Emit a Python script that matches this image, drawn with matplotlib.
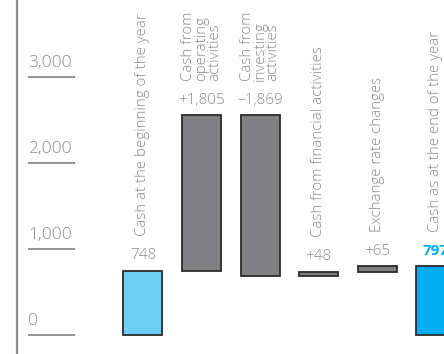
import matplotlib
matplotlib.use('Agg')
import matplotlib.pyplot as plt
import matplotlib.transforms as mtransforms
import numpy as np

# waterfall data
categories = ['Cash at the beginning of the year',
              'Cash from\noperating\nactivities',
              'Cash from\ninvesting\nactivities',
              'Cash from financial activities',
              'Exchange rate changes',
              'Cash as at the end of the year']
values = [748, 1805, -1869, 48, 65, 797]
value_labels = ['748', '+1,805', '\u20131,869', '+48', '+65', '797']
is_total = [True, False, False, False, False, True]
yticks = [0, 1000, 2000, 3000]
ytick_labels = ['0', '1,000', '2,000', '3,000']

GRAY = '#8a8a8d'
plt.rcParams['font.family'] = ['Open Sans', 'DejaVu Sans']
plt.rcParams['font.weight'] = 'light'


def main():
	fig = plt.figure(figsize=(4.44, 3.54), dpi=100)
	ax = fig.add_axes([0, 0, 1, 1])
	ax.set_xlim(-2.44, 5.14)
	ax.set_ylim(-221, 3895)
	ax.axis('off')

	#Build bottoms/heights for the waterfall
	bottoms, heights, tops = [], [], []
	running = 0
	for v, tot in zip(values, is_total):
		if tot:
			bottoms.append(0)
			heights.append(v)
			running = v
		else:
			bottoms.append(running + min(0, v))
			heights.append(abs(v))
			running += v
		tops.append(bottoms[-1] + heights[-1])

	colors = ['#6dcff6', '#808083', '#808083', '#808083', '#808083', '#00aeef']
	x = np.arange(len(values))
	ax.bar(x, heights, bottom=bottoms, width=0.665, color=colors,
		edgecolor='#2b2b2b', linewidth=1.3, zorder=3)

	for i in range(len(values)):
		last = (i == len(values) - 1)
		ax.annotate(value_labels[i], (x[i], tops[i]), xytext=(0, 8.5),
			textcoords='offset points', ha='center', va='baseline',
			fontsize=11, color='#00aeef' if last else GRAY,
			fontweight='bold' if last else 'light', annotation_clip=False)
		ax.annotate(categories[i], (x[i], tops[i]), xytext=(0, 25),
			textcoords='offset points', ha='center', va='bottom',
			rotation=90, multialignment='left', linespacing=0.8,
			fontsize=10.8, color=GRAY, annotation_clip=False)

	#y axis: gray spine at the left and short tick lines with labels above
	trans = mtransforms.blended_transform_factory(ax.transAxes, ax.transData)
	ax.axvline(-2.15, color=GRAY, lw=1.6)
	ax.hlines(yticks, 0.063, 0.169, transform=trans, color=GRAY, lw=1.3)
	for t, lab in zip(yticks, ytick_labels):
		ax.annotate(lab, (0.063, t), xycoords=trans, xytext=(0, 7),
			textcoords='offset points', ha='left', va='baseline',
			fontsize=12.5, color=GRAY)

	fig.savefig('out.png', dpi=100)


if __name__ == '__main__':
	main()
